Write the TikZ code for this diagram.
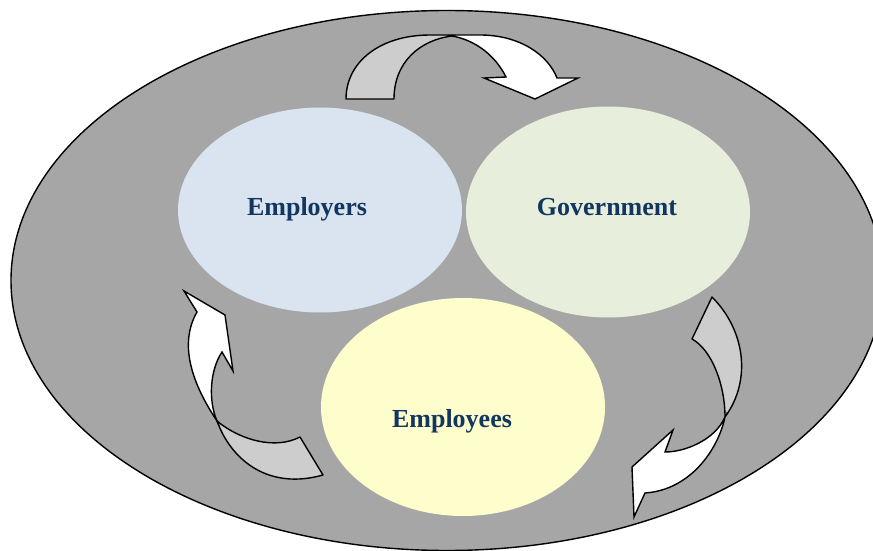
\documentclass[tikz,border=0pt]{standalone}
\usepackage{fontspec}
\setmainfont{Liberation Serif}
\usetikzlibrary{shapes.geometric,positioning}

\definecolor{ringgrey}{HTML}{A6A6A6}
\definecolor{backgrey}{HTML}{CDCDCD}
\definecolor{bluefill}{HTML}{DAE3F0}
\definecolor{greenfill}{HTML}{E7EFDC}
\definecolor{yellowfill}{HTML}{FEFDCC}
\definecolor{navytext}{HTML}{11365F}

\begin{document}
\begin{tikzpicture}[x=1pt,y=-1pt,
	party/.style={ellipse,minimum width=284pt,inner sep=0pt},
	partylabel/.style={font=\fontsize{26}{30}\selectfont\bfseries,text=navytext},
	backpart/.style={draw,line width=1.4pt,fill=backgrey,line join=round},
	frontpart/.style={draw,line width=1.4pt,fill=white,line join=miter}]

	\useasboundingbox (0,0) rectangle (873,551);

	% outer ring
	\filldraw[fill=ringgrey,line width=1.4pt] (447,280.5) ellipse [x radius=436pt,y radius=270pt];

	% the three parties
	\node[party,fill=bluefill,minimum height=205pt] (employers) at (320,210) {};
	\node[party,fill=greenfill,minimum height=211pt] (government) at (608,212) {};
	\node[party,fill=yellowfill,minimum height=218pt] (employees) at (463,407) {};

	\node[partylabel] (employerstext) at ([xshift=-13pt,yshift=1pt]employers.center) {Employers};
	\node[partylabel] (governmenttext) at ([xshift=-1pt,yshift=5pt]government.center) {Government};
	\node[partylabel] (employeestext) at ([xshift=-11pt,yshift=-14pt]employees.center) {Employees};

	% top arrow: employers -> government
	\draw[backpart] (346,99) .. controls (346,62) and (380,35) .. (430,35) -- (452,35)
		-- (452,36) .. controls (420,40) and (394,62) .. (394,99) -- cycle;
	\draw[frontpart] (452,35) -- (480,35) .. controls (520,35) and (548,55) .. (557,78)
		-- (578,78) -- (535,99) -- (484,78) -- (506,77)
		.. controls (495,55) and (475,40) .. (452,36) -- cycle;

	% right arrow: government -> employees
	\draw[backpart] (712,297) .. controls (745,330) and (752,380) .. (725,417)
		.. controls (725,385) and (712,350) .. (692,339) -- cycle;
	\draw[frontpart] (725,417) .. controls (718,450) and (690,490) .. (645,493)
		-- (634,517) -- (632,467) -- (673,430) -- (665,452)
		.. controls (685,452) and (715,440) .. (725,417) -- cycle;

	% left arrow: employees -> employers
	\draw[backpart] (217,421) .. controls (232,462) and (270,490) .. (323,475)
		-- (300,437) .. controls (275,450) and (240,440) .. (217,421) -- cycle;
	\draw[frontpart] (217,421) .. controls (193,385) and (178,345) .. (197,312)
		-- (184,291) -- (225,315) -- (233,371) -- (222,352)
		.. controls (210,370) and (208,400) .. (217,421) -- cycle;

\end{tikzpicture}
\end{document}
